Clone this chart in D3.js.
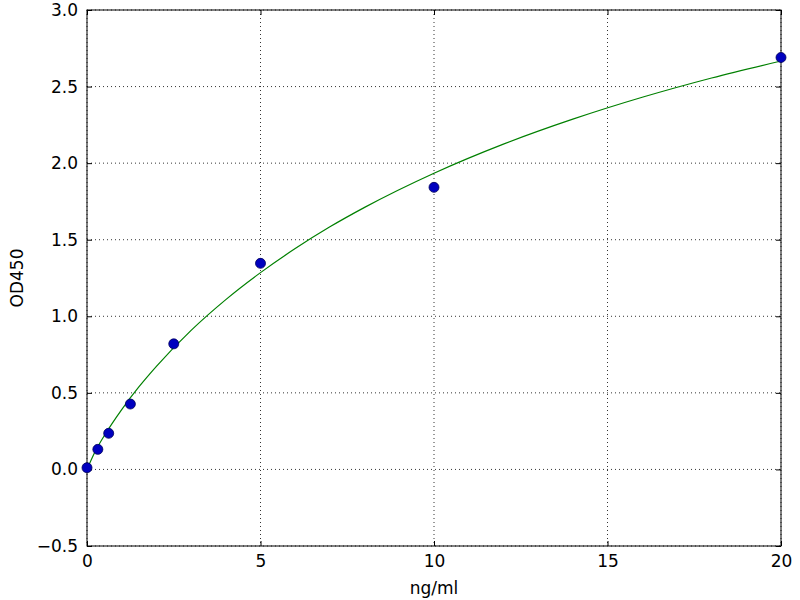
<!DOCTYPE html>
<html><head><meta charset="utf-8">
<script src="https://cdn.jsdelivr.net/npm/d3@7"></script>
<style>body{margin:0;background:#fff}svg{display:block}text{font-family:"DejaVu Sans",sans-serif}</style>
</head><body><svg id="c" width="800" height="600"></svg>
<script>
const concX = [0, 0.3125, 0.625, 1.25, 2.5, 5, 10, 20];
const odY = [0.011, 0.131, 0.236, 0.427, 0.82, 1.346, 1.842, 2.69];
const curveX = [0, 0.25, 0.5, 1, 1.5, 2, 3, 4, 5, 6, 7, 8, 10, 12, 14, 16, 18, 20];
const curveY = [0, 0.123, 0.221, 0.391, 0.540, 0.673, 0.908, 1.109, 1.285, 1.442, 1.584, 1.711, 1.934, 2.124, 2.287, 2.430, 2.556, 2.667];
const xTicks = [0, 5, 10, 15, 20];
const yTicks = [-0.5, 0.0, 0.5, 1.0, 1.5, 2.0, 2.5, 3.0];

const svg = d3.select("#c");
const L = 87, R = 781, T = 10, B = 546;
const x = d3.scaleLinear().domain([0, 20]).range([L, R]);
const y = d3.scaleLinear().domain([-0.5, 3.0]).range([B, T]);
const fmtY = d => d3.format(".1f")(d).replace("-", "\u2212");

// grid
const g = svg.append("g");
g.selectAll("line.gx").data(xTicks).enter().append("line")
  .attr("x1", d => x(d)).attr("x2", d => x(d)).attr("y1", T).attr("y2", B)
  .attr("stroke", "#000").attr("stroke-width", 0.8).attr("stroke-dasharray", "1,3");
g.selectAll("line.gy").data(yTicks).enter().append("line")
  .attr("y1", d => y(d)).attr("y2", d => y(d)).attr("x1", L).attr("x2", R)
  .attr("stroke", "#000").attr("stroke-width", 0.8).attr("stroke-dasharray", "1,3");

// axes (ticks inward)
const ax = svg.append("g").attr("transform", `translate(0,${B})`)
  .call(d3.axisBottom(x).tickValues(xTicks).tickSize(-5).tickPadding(9).tickFormat(d3.format("d")));
const axT = svg.append("g").attr("transform", `translate(0,${T})`)
  .call(d3.axisTop(x).tickValues(xTicks).tickSize(-5).tickFormat(""));
const ay = svg.append("g").attr("transform", `translate(${L},0)`)
  .call(d3.axisLeft(y).tickValues(yTicks).tickSize(-5).tickPadding(9).tickFormat(fmtY));
const ayR = svg.append("g").attr("transform", `translate(${R},0)`)
  .call(d3.axisRight(y).tickValues(yTicks).tickSize(-5).tickFormat(""));
[ax, axT, ay, ayR].forEach(a => {
  a.select(".domain").remove();
  a.selectAll("line").attr("stroke", "#000");
  a.selectAll("text").attr("font-size", 17).attr("fill", "#000").style("font-family", "DejaVu Sans");
});

// curve
const pts = curveX.map((d, i) => [d, curveY[i]]);
svg.append("path").datum(pts)
  .attr("d", d3.line().x(d => x(d[0])).y(d => y(d[1])).curve(d3.curveMonotoneX))
  .attr("fill", "none").attr("stroke", "#008000").attr("stroke-width", 1.2);

// frame
svg.append("rect").attr("x", L).attr("y", T).attr("width", R - L).attr("height", B - T)
  .attr("fill", "none").attr("stroke", "#000").attr("stroke-width", 1);

// points
svg.selectAll("circle").data(concX).enter().append("circle")
  .attr("cx", d => x(d)).attr("cy", (d, i) => y(odY[i])).attr("r", 5)
  .attr("fill", "#0000bf").attr("stroke", "#00005a").attr("stroke-width", 0.8);

// labels
svg.append("text").attr("x", (L + R) / 2).attr("y", 594).attr("text-anchor", "middle")
  .attr("font-size", 17).text("ng/ml");
svg.append("text").attr("transform", `translate(23,${(T + B) / 2}) rotate(-90)`)
  .attr("text-anchor", "middle").attr("font-size", 17).text("OD450");
</script></body></html>
